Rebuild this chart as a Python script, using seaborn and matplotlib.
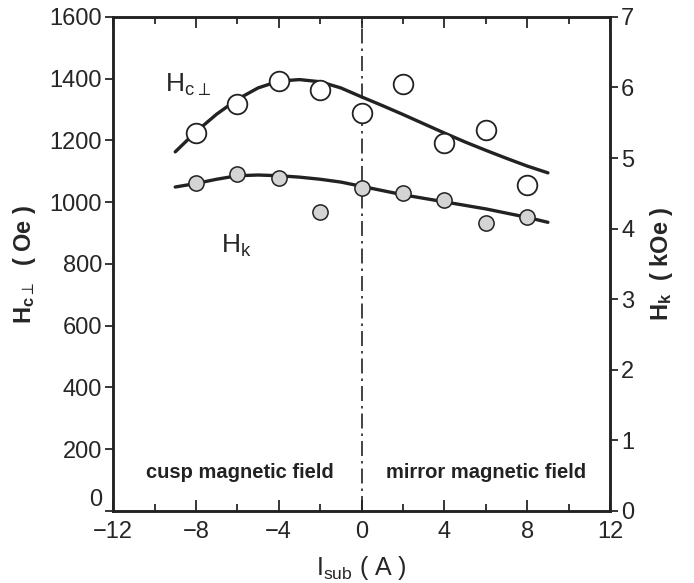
import matplotlib
matplotlib.use("Agg")
import matplotlib.pyplot as plt
import seaborn as sns
import pandas as pd

# data
i_sub = [-8, -6, -4, -2, 0, 2, 4, 6, 8]
hc_perp = [1224, 1318, 1393, 1362, 1289, 1383, 1192, 1234, 1056]      # Oe, left axis
hk = [4.64, 4.77, 4.72, 4.24, 4.58, 4.50, 4.41, 4.08, 4.17]          # kOe, right axis

fit_x = [-9, -8, -7, -6, -5, -4, -3, -2, -1, 0, 1, 2, 3, 4, 5, 6, 7, 8, 9]
hc_fit = [1163, 1228, 1285, 1333, 1370, 1392, 1397, 1390, 1370, 1341,
          1313, 1284, 1254, 1224, 1195, 1168, 1142, 1117, 1095]
hk_fit = [4.59, 4.64, 4.70, 4.75, 4.76, 4.75, 4.73, 4.70, 4.66, 4.60,
          4.54, 4.48, 4.43, 4.38, 4.33, 4.28, 4.22, 4.16, 4.09]

sns.set_style("ticks")
plt.rcParams['font.family'] = ['Liberation Sans', 'DejaVu Sans']
plt.rcParams['mathtext.default'] = 'regular'

df = pd.DataFrame({"I": i_sub, "Hc": hc_perp, "Hk": hk})
fit = pd.DataFrame({"I": fit_x, "Hc": hc_fit, "Hk": hk_fit})

fig = plt.figure(figsize=(6.94, 5.83), dpi=100)
ax = fig.add_axes([0.163, 0.1235, 0.716, 0.8475])
ax2 = ax.twinx()

sns.lineplot(data=fit, x="I", y="Hc", ax=ax, color="#222222", lw=2.4, zorder=2)
sns.scatterplot(data=df, x="I", y="Hc", ax=ax, s=200, facecolor="white",
                edgecolor="#222222", linewidth=1.3, zorder=3)
sns.lineplot(data=fit, x="I", y="Hk", ax=ax2, color="#222222", lw=2.4, zorder=2)
sns.scatterplot(data=df, x="I", y="Hk", ax=ax2, s=120, facecolor="#d4d4d4",
                edgecolor="#222222", linewidth=1.1, zorder=3)

ax.axvline(0, color="#222222", lw=1.2, ls=(0, (9, 3, 1.5, 3)), zorder=1)

ax.set_xlim(-12, 12)
ax.set_ylim(0, 1600)
ax2.set_ylim(0, 7)
ax.set_xticks([-12, -8, -4, 0, 4, 8, 12])
ax.set_xticklabels(["\u221212", "\u22128", "\u22124", "0", "4", "8", "12"])
ax.set_xticks(range(-10, 12, 4), minor=True)
ax.set_yticks(range(0, 1601, 200))
ax2.set_yticks(range(0, 8))

ax.tick_params(axis="x", which="both", direction="in", top=True, labelsize=17,
               width=1.3, pad=7)
ax.tick_params(axis="x", which="major", length=8)
ax.tick_params(axis="x", which="minor", length=5)
ax.tick_params(axis="y", direction="out", length=6, width=1.3, labelsize=17, pad=2)
ax2.tick_params(axis="y", direction="out", length=6, width=1.3, labelsize=17, pad=2)

# the left zero label sits a little above the corner, as in the reference
ax.get_yticklabels()[0].set_va("bottom")
ax2.get_yticklabels()[0].set_va("center_baseline")

for a in (ax, ax2):
    for s in a.spines.values():
        s.set_linewidth(1.8)
        s.set_color("#222222")

ax.set_xlabel("I$_{sub}$ ( A )", fontsize=18, labelpad=8)
ax.set_ylabel("H$_{c\\perp}$  ( Oe )", fontsize=17, fontweight="bold", labelpad=8)
ax2.set_ylabel("H$_k$  ( kOe )", fontsize=17, fontweight="bold", labelpad=10)

ax.text(-9.5, 1380, "H$_{c\\perp}$", fontsize=19, ha="left", va="center")
ax.text(-6.8, 860, "H$_k$", fontsize=19, ha="left", va="center")
ax.text(-5.9, 125, "cusp magnetic field", fontsize=14.5, fontweight="bold",
        ha="center", va="center", color="#222222")
ax.text(6.0, 125, "mirror magnetic field", fontsize=14.5, fontweight="bold",
        ha="center", va="center", color="#222222")

fig.savefig("out.png", dpi=100)
